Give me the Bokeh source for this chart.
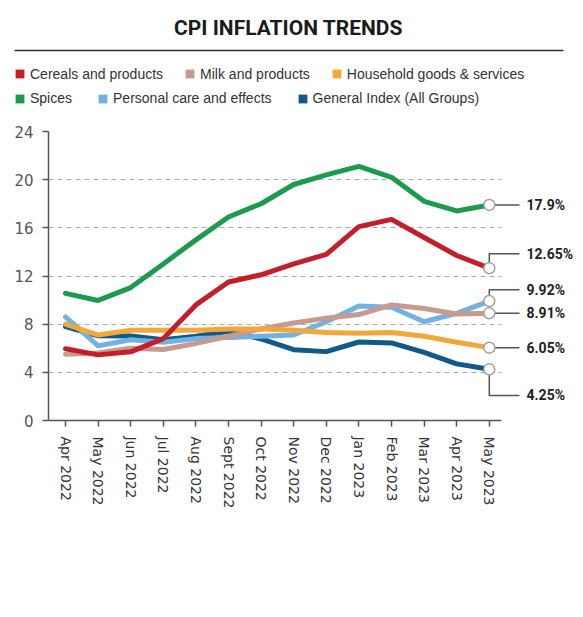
from bokeh.plotting import figure
from bokeh.models import Range1d, FixedTicker, Legend, LegendItem
from bokeh.layouts import column
from bokeh.core.properties import value
from bokeh.embed import file_html
from bokeh.resources import INLINE

# ---------------- data ----------------
title_text = "CPI INFLATION TRENDS"
months = ["Apr 2022", "May 2022", "Jun 2022", "Jul 2022", "Aug 2022", "Sept 2022",
          "Oct 2022", "Nov 2022", "Dec 2022", "Jan 2023", "Feb 2023", "Mar 2023",
          "Apr 2023", "May 2023"]
series_names = ["Cereals and products", "Milk and products", "Household goods & services",
                "Spices", "Personal care and effects", "General Index (All Groups)"]
cereals = [5.96, 5.45, 5.7, 6.8, 9.6, 11.5, 12.1, 13.0, 13.8, 16.1, 16.7, 15.2, 13.7, 12.65]
milk = [5.5, 5.6, 6.0, 5.9, 6.4, 7.0, 7.6, 8.1, 8.5, 8.8, 9.6, 9.3, 8.85, 8.91]
household = [8.0, 7.1, 7.5, 7.5, 7.5, 7.6, 7.6, 7.5, 7.3, 7.25, 7.3, 7.0, 6.5, 6.05]
spices = [10.56, 9.97, 11.04, 13.0, 15.0, 16.9, 18.0, 19.6, 20.4, 21.1, 20.2, 18.2, 17.4, 17.9]
personal = [8.6, 6.2, 6.7, 6.5, 6.8, 6.9, 7.0, 7.1, 8.2, 9.5, 9.4, 8.2, 8.9, 9.92]
general = [7.79, 7.04, 7.01, 6.71, 7.0, 7.41, 6.77, 5.88, 5.72, 6.52, 6.44, 5.66, 4.7, 4.25]
y_ticks = [0, 4, 8, 12, 16, 20, 24]

series_values = [cereals, milk, household, spices, personal, general]

# ---------------- styles / layout ----------------
colors = ["#c21f2b", "#c69a8e", "#f2a73b", "#1c9a4e", "#72b2e2", "#11598b"]
draw_order = [5, 4, 1, 2, 0, 3]
label_offset = [1.2, 0.0, 0.0, 0.0, 0.93, -2.17]

W = 575
HEAD_H = 110
CHART_H = 491
PX = 32.6
x_start = (48 - 65) / PX
x_end = (W - 65) / PX
axis_end = (501 - 65) / PX
conn_end = (519 - 65) / PX
label_x = (526 - 65) / PX
BOLD_FONT = "Roboto"


def no_align(fig):
    try:
        fig.frame_align = False
    except AttributeError:
        pass


# ---------------- header ----------------
h = figure(width=W, height=HEAD_H, x_range=Range1d(0, W), y_range=Range1d(0, HEAD_H),
           x_axis_type=None, y_axis_type=None, output_backend="svg",
           toolbar_location=None, min_border=0, min_border_left=0, min_border_right=0,
           min_border_top=0, min_border_bottom=0, outline_line_color=None)
no_align(h)
h.grid.visible = False
h.text(x=[288], y=[HEAD_H - 27], text=[title_text], text_align="center",
       text_baseline="middle", text_font=value(BOLD_FONT), text_font_style="bold",
       text_font_size="21px", text_color="#1b1b1b")
h.segment(x0=[14], x1=[563], y0=[HEAD_H - 50], y1=[HEAD_H - 50],
          line_color="#333333", line_width=1.5)

proxies = [h.quad(left=[-20], right=[-10], top=[-10], bottom=[-20], fill_color=c,
                  line_color=None) for c in colors]
rows = [[0, 1, 2], [3, 4, 5]]
for row, ly, sp in zip(rows, [26.5, 2], [21, 25]):
    leg = Legend(items=[LegendItem(label=series_names[i], renderers=[proxies[i]]) for i in row],
                 orientation="horizontal", location=(14, ly), glyph_width=11, glyph_height=11,
                 label_standoff=5, spacing=sp, padding=0, margin=0, label_height=20,
                 border_line_color=None, background_fill_alpha=0,
                 label_text_font="Liberation Sans", label_text_font_size="14px",
                 label_text_color="#333333")
    h.add_layout(leg)

# ---------------- chart ----------------
p = figure(width=W, height=CHART_H, x_range=Range1d(x_start, x_end), y_range=Range1d(0, 24),
           output_backend="svg", toolbar_location=None, min_border_left=48,
           min_border_right=0, min_border_top=21, min_border_bottom=181,
           outline_line_color=None)
no_align(p)

xs = list(range(len(months)))
p.xaxis.ticker = FixedTicker(ticks=xs)
p.xaxis.major_label_overrides = {i: m for i, m in zip(xs, months)}
p.xaxis.major_label_orientation = "vertical"
p.xaxis.bounds = (x_start, axis_end)
p.yaxis.ticker = FixedTicker(ticks=y_ticks)
for ax in (p.xaxis[0], p.yaxis[0]):
    ax.axis_line_color = "#555555"
    ax.axis_line_width = 1.5
    ax.major_tick_line_color = "#555555"
    ax.major_tick_line_width = 1.5
    ax.major_tick_out = 6
    ax.major_tick_in = 0
    ax.minor_tick_line_color = None
    ax.major_label_text_font = "DejaVu Sans"
p.xaxis.major_label_text_font_size = "14px"
p.xaxis.major_label_text_color = "#333333"
p.xaxis.major_label_standoff = 10
p.yaxis.major_label_text_font_size = "15px"
p.yaxis.major_label_text_color = "#555555"
p.yaxis.major_label_standoff = 9

p.xgrid.visible = False
grid = p.ygrid[0]
grid.grid_line_color = "#aaaaaa"
grid.grid_line_dash = "5 4"
grid.grid_line_width = 1.2
try:
    grid.cross_bounds = (x_start, axis_end)
except AttributeError:
    grid.visible = False
    gy = y_ticks[1:]
    p.segment(x0=[x_start] * len(gy), x1=[axis_end] * len(gy), y0=gy, y1=gy,
              line_color="#aaaaaa", line_dash="5 4", line_width=1.2)

for i in draw_order:
    p.line(x=xs, y=series_values[i], line_color=colors[i], line_width=5,
           line_join="round", line_cap="round")

last_x = xs[-1]
last_vals = [s[-1] for s in series_values]
conn_xs = [[last_x, last_x, conn_end] for _ in last_vals]
conn_ys = [[v, v + o, v + o] for v, o in zip(last_vals, label_offset)]
p.multi_line(xs=conn_xs, ys=conn_ys, line_color="#555555", line_width=1.5)
p.scatter(x=[last_x] * len(last_vals), y=last_vals, size=11, fill_color="white",
          line_color="#a0a0a0", line_width=1.5)
p.text(x=[label_x] * len(last_vals), y=[v + o for v, o in zip(last_vals, label_offset)],
       text=[f"{v:g}%" for v in last_vals], text_font=value(BOLD_FONT),
       text_font_style="bold", text_font_size="14px", text_baseline="middle",
       text_color="#222222")

layout = column(h, p)
open("out.html", "w").write(file_html(layout, INLINE, title="CPI Inflation Trends"))
